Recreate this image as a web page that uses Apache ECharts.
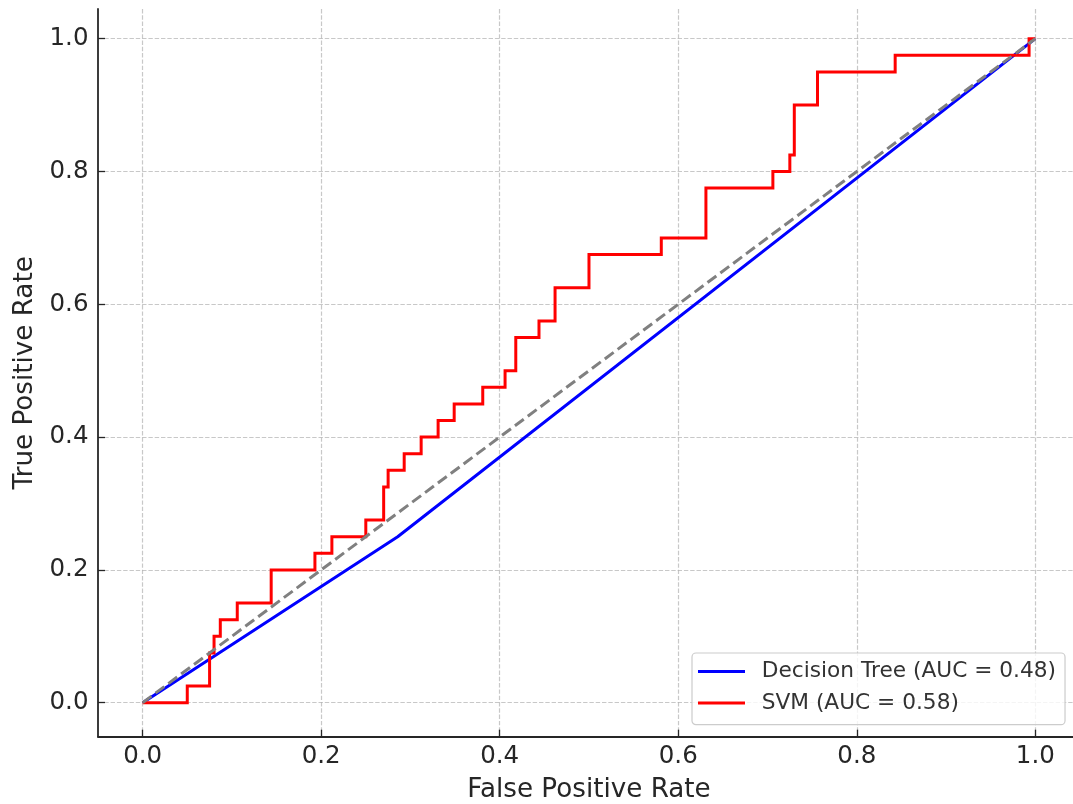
<!DOCTYPE html>
<html>
<head>
<meta charset="utf-8">
<script src="https://cdn.jsdelivr.net/npm/echarts@6/dist/echarts.min.js"></script>
<style>
html,body{margin:0;padding:0;background:#fff;}
#chart{width:1073px;height:804px;}
</style>
</head>
<body>
<div id="chart"></div>
<script>
// ---- data ----
const tickValues = [0, 0.2, 0.4, 0.6, 0.8, 1.0];
const seriesNames = ['Decision Tree (AUC = 0.48)', 'SVM (AUC = 0.58)'];
const dtFpr = [0, 0.2857, 1.0];
const dtTpr = [0, 0.25, 1.0];
const svmFpr = [0, 0.05, 0.05, 0.075, 0.075, 0.08, 0.08, 0.087, 0.087, 0.106,
                0.106, 0.144, 0.144, 0.193, 0.193, 0.212, 0.212, 0.25, 0.25, 0.27,
                0.27, 0.275, 0.275, 0.293, 0.293, 0.312, 0.312, 0.331, 0.331, 0.349,
                0.349, 0.381, 0.381, 0.406, 0.406, 0.418, 0.418, 0.444, 0.444, 0.462,
                0.462, 0.5, 0.5, 0.581, 0.581, 0.631, 0.631, 0.706, 0.706, 0.725,
                0.725, 0.73, 0.73, 0.756, 0.756, 0.843, 0.843, 0.993, 0.993, 1.0];
const svmTpr = [0, 0, 0.025, 0.025, 0.075, 0.075, 0.1, 0.1, 0.125, 0.125,
                0.15, 0.15, 0.2, 0.2, 0.225, 0.225, 0.25, 0.25, 0.275, 0.275,
                0.325, 0.325, 0.35, 0.35, 0.375, 0.375, 0.4, 0.4, 0.425, 0.425,
                0.45, 0.45, 0.475, 0.475, 0.5, 0.5, 0.55, 0.55, 0.575, 0.575,
                0.625, 0.625, 0.675, 0.675, 0.7, 0.7, 0.775, 0.775, 0.8, 0.8,
                0.825, 0.825, 0.9, 0.9, 0.95, 0.95, 0.975, 0.975, 1.0, 1.0];
const chanceX = [0, 1];
const chanceY = [0, 1];

function zip(a, b) { return a.map((v, i) => [v, b[i]]); }

const FONT = 'DejaVu Sans';
const TXT = '#262626';
const gridLine = { show: true, lineStyle: { color: 'rgba(176,176,176,0.7)', width: 1.2, type: [4.4, 1.9] } };

const chart = echarts.init(document.getElementById('chart'), null, { renderer: 'canvas' });
chart.setOption({
  animation: false,
  backgroundColor: '#ffffff',
  grid: { left: 98, top: 9, right: 0, bottom: 67.3, containLabel: false, outerBoundsMode: 'none' },
  xAxis: {
    type: 'value', min: -0.05, max: 1.0422,
    name: 'False Positive Rate', nameLocation: 'middle', nameGap: 40,
    nameTextStyle: { fontFamily: FONT, fontSize: 26.2, color: TXT, padding: [0, 0, 0, 7] },
    axisLine: { show: true, onZero: false, lineStyle: { color: TXT, width: 1.8 } },
    axisTick: { show: true, inside: true, length: 7, customValues: tickValues, lineStyle: { color: TXT, width: 1.3 } },
    axisLabel: { customValues: tickValues, margin: 7, fontFamily: FONT, fontSize: 24.5, color: TXT,
                 formatter: v => v.toFixed(1) },
    splitLine: gridLine
  },
  yAxis: {
    type: 'value', min: -0.0512, max: 1.0447,
    name: 'True Positive Rate', nameLocation: 'middle', nameGap: 60,
    nameTextStyle: { fontFamily: FONT, fontSize: 26.2, color: TXT },
    axisLine: { show: true, onZero: false, lineStyle: { color: TXT, width: 1.8 } },
    axisTick: { show: true, inside: true, length: 7, customValues: tickValues, lineStyle: { color: TXT, width: 1.3 } },
    axisLabel: { customValues: tickValues, margin: 9.5, fontFamily: FONT, fontSize: 24.5, color: TXT,
                 formatter: v => v.toFixed(1) },
    splitLine: gridLine
  },
  legend: {
    data: seriesNames,
    orient: 'vertical',
    left: 692, top: 653,
    padding: [5.4, 9, 8.7, 6],
    itemGap: 5.6,
    icon: 'rect', itemWidth: 47, itemHeight: 3,
    backgroundColor: 'rgba(255,255,255,0.8)',
    borderColor: '#cccccc', borderWidth: 1.2, borderRadius: 4,
    textStyle: { fontFamily: FONT, fontSize: 21.7, lineHeight: 26, color: '#333333', padding: [0, 0, 0, 11.7] }
  },
  series: [
    { name: seriesNames[0], type: 'line', data: zip(dtFpr, dtTpr), symbol: 'none', z: 2,
      color: '#0000ff', lineStyle: { color: '#0000ff', width: 3 } },
    { name: seriesNames[1], type: 'line', data: zip(svmFpr, svmTpr), symbol: 'none', z: 3,
      color: '#ff0000', lineStyle: { color: '#ff0000', width: 3, join: 'miter' } },
    { name: 'chance', type: 'line', data: zip(chanceX, chanceY), symbol: 'none', z: 4,
      color: '#808080', lineStyle: { color: '#808080', width: 3, type: [11, 5] } }
  ]
});
</script>
</body>
</html>
